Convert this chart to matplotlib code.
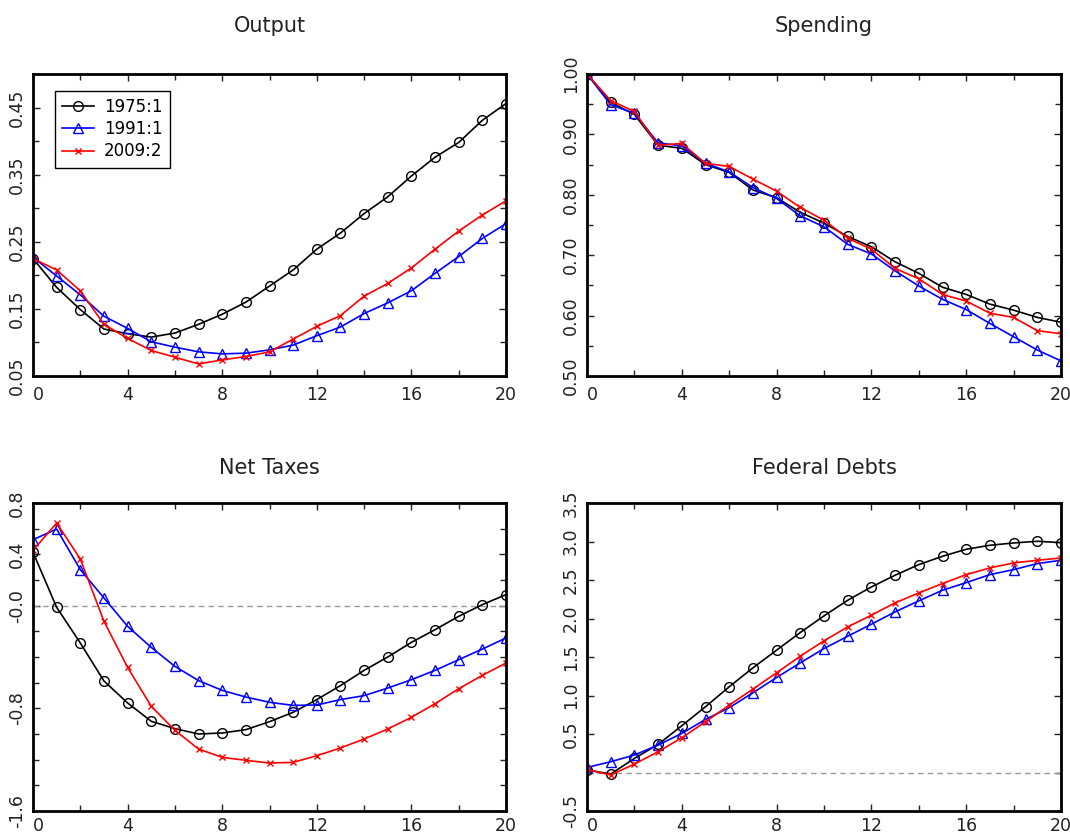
import numpy as np
import matplotlib
matplotlib.use("Agg")
import matplotlib.pyplot as plt
from matplotlib.ticker import MultipleLocator
from matplotlib.legend_handler import HandlerLine2D

# =================================
# DATA
# =================================

quarters = list(range(21))
series_names = ["1975:1", "1991:1", "2009:2"]

output_1975 = [0.225, 0.182, 0.149, 0.120, 0.113, 0.108, 0.114, 0.127, 0.142, 0.160,
               0.184, 0.208, 0.239, 0.263, 0.292, 0.317, 0.348, 0.376, 0.398, 0.431, 0.456]
output_1991 = [0.227, 0.199, 0.171, 0.139, 0.121, 0.101, 0.093, 0.086, 0.083, 0.084,
               0.089, 0.096, 0.110, 0.123, 0.143, 0.159, 0.177, 0.203, 0.228, 0.255, 0.277]
output_2009 = [0.225, 0.208, 0.177, 0.127, 0.106, 0.088, 0.078, 0.068, 0.074, 0.079,
               0.086, 0.105, 0.124, 0.140, 0.169, 0.188, 0.211, 0.239, 0.266, 0.290, 0.311]

spending_1975 = [1.000, 0.953, 0.933, 0.882, 0.877, 0.850, 0.837, 0.808, 0.795, 0.771,
                 0.753, 0.731, 0.714, 0.689, 0.670, 0.647, 0.635, 0.619, 0.609, 0.597, 0.589]
spending_1991 = [1.000, 0.949, 0.935, 0.886, 0.881, 0.852, 0.838, 0.812, 0.794, 0.765,
                 0.747, 0.718, 0.702, 0.674, 0.649, 0.627, 0.610, 0.587, 0.565, 0.543, 0.525]
spending_2009 = [1.000, 0.956, 0.938, 0.882, 0.885, 0.852, 0.847, 0.826, 0.806, 0.779,
                 0.758, 0.728, 0.710, 0.678, 0.661, 0.635, 0.624, 0.604, 0.597, 0.575, 0.570]

taxes_1975 = [0.416, -0.013, -0.291, -0.587, -0.758, -0.901, -0.958, -1.000, -0.992, -0.966,
              -0.904, -0.831, -0.732, -0.623, -0.504, -0.400, -0.286, -0.187, -0.083, 0.008, 0.086]
taxes_1991 = [0.514, 0.597, 0.281, 0.060, -0.161, -0.325, -0.473, -0.584, -0.660, -0.712,
              -0.753, -0.777, -0.774, -0.732, -0.701, -0.642, -0.577, -0.504, -0.421, -0.338, -0.252]
taxes_2009 = [0.431, 0.644, 0.364, -0.122, -0.481, -0.784, -0.971, -1.117, -1.182, -1.205,
              -1.226, -1.221, -1.169, -1.109, -1.039, -0.961, -0.870, -0.764, -0.647, -0.543, -0.447]

debt_1975 = [0.032, -0.020, 0.183, 0.365, 0.607, 0.854, 1.113, 1.359, 1.589, 1.818,
             2.034, 2.237, 2.410, 2.562, 2.700, 2.808, 2.899, 2.951, 2.981, 3.003, 2.985]
debt_1991 = [0.066, 0.140, 0.227, 0.356, 0.508, 0.689, 0.841, 1.035, 1.234, 1.424,
             1.610, 1.770, 1.926, 2.086, 2.229, 2.367, 2.466, 2.570, 2.635, 2.713, 2.756]
debt_2009 = [0.041, -0.033, 0.110, 0.270, 0.451, 0.659, 0.875, 1.083, 1.295, 1.511,
             1.710, 1.891, 2.043, 2.203, 2.332, 2.454, 2.570, 2.657, 2.722, 2.756, 2.786]

panel_titles = ["Output", "Spending", "Net Taxes", "Federal Debts"]
panel_data = [
    [output_1975, output_1991, output_2009],
    [spending_1975, spending_1991, spending_2009],
    [taxes_1975, taxes_1991, taxes_2009],
    [debt_1975, debt_1991, debt_2009],
]
y_limits = [(0.05, 0.50), (0.50, 1.00), (-1.6, 0.8), (-0.5, 3.5)]
y_tick_step = [0.05, 0.05, 0.2, 0.5]
y_label_pos = [
    [0.05, 0.15, 0.25, 0.35, 0.45],
    [0.50, 0.60, 0.70, 0.80, 0.90, 1.00],
    [0.8, 0.4, 0.0, -0.8, -1.6],
    [-0.5, 0.5, 1.0, 1.5, 2.0, 2.5, 3.0, 3.5],
]
y_label_text = [
    ["0.05", "0.15", "0.25", "0.35", "0.45"],
    ["0.50", "0.60", "0.70", "0.80", "0.90", "1.00"],
    ["0.8", "0.4", "-0.0", "-0.8", "-1.6"],
    ["-0.5", "0.5", "1.0", "1.5", "2.0", "2.5", "3.0", "3.5"],
]
zero_line = [False, False, True, True]

# =================================
# STYLE
# =================================

colors = ["black", "#0000ff", "#ff0000"]
markers = ["o", "^", "x"]
marker_sizes = [7, 7.5, 5]


class LeftMarkerHandler(HandlerLine2D):
    # legend marker sits at the left end of the line sample
    def get_xdata(self, legend, xdescent, ydescent, width, height, fontsize):
        xdata = np.array([-xdescent, -xdescent + width])
        xdata_marker = np.array([-xdescent + 0.12 * width])
        return xdata, xdata_marker


W, H = 1070, 832
fig = plt.figure(figsize=(W / 100, H / 100), dpi=100)

# axes boxes in pixels: left, top, right, bottom
boxes = [(33, 74, 506, 376), (587, 74, 1061, 376),
         (33, 503, 506, 811), (587, 503, 1061, 811)]
title_pads = [30, 30, 21, 21]
x_pads = [7, 7, 4.5, 4.5]

for k in range(4):
    l, t, r, b = boxes[k]
    ax = fig.add_axes([l / W, 1 - b / H, (r - l) / W, (b - t) / H])

    if zero_line[k]:
        ax.axhline(0, color="#999999", linestyle="--", linewidth=1, dashes=(4, 3))

    for s in range(3):
        ax.plot(quarters, panel_data[k][s], color=colors[s], marker=markers[s],
                markersize=marker_sizes[s], markerfacecolor="none",
                markeredgecolor=colors[s], markeredgewidth=1.0,
                linewidth=1.2, label=series_names[s])

    ax.set_xlim(0, 20)
    ax.set_ylim(*y_limits[k])
    ax.set_xticks([0, 4, 8, 12, 16, 20])
    ax.xaxis.set_minor_locator(MultipleLocator(2))
    ax.set_yticks(y_label_pos[k], y_label_text[k], rotation=90, va="center")
    ax.yaxis.set_minor_locator(MultipleLocator(y_tick_step[k]))

    ax.tick_params(axis="both", which="both", direction="in", top=True, right=True,
                   labelsize=12.5, colors="#222222", width=1)
    ax.tick_params(axis="both", which="major", length=5)
    ax.tick_params(axis="both", which="minor", length=4)
    ax.tick_params(axis="x", pad=x_pads[k])
    ax.tick_params(axis="y", pad=5)
    ax.xaxis.get_majorticklabels()[0].set_horizontalalignment("left")

    for sp in ax.spines.values():
        sp.set_linewidth(2.0)
        sp.set_color("black")

    ax.set_title(panel_titles[k], fontsize=15, color="#222222", pad=title_pads[k])

    if k == 0:
        leg = ax.legend(loc="upper left", bbox_to_anchor=(0.0465, 0.945),
                        borderaxespad=0, fontsize=12, fancybox=False,
                        edgecolor="black", framealpha=1, handlelength=1.9,
                        handletextpad=0.6, labelspacing=0.25, borderpad=0.45,
                        numpoints=1, handler_map={matplotlib.lines.Line2D: LeftMarkerHandler()})
        leg.get_frame().set_linewidth(1.0)

fig.savefig("out.png", dpi=100)
print("Chart saved to out.png")
